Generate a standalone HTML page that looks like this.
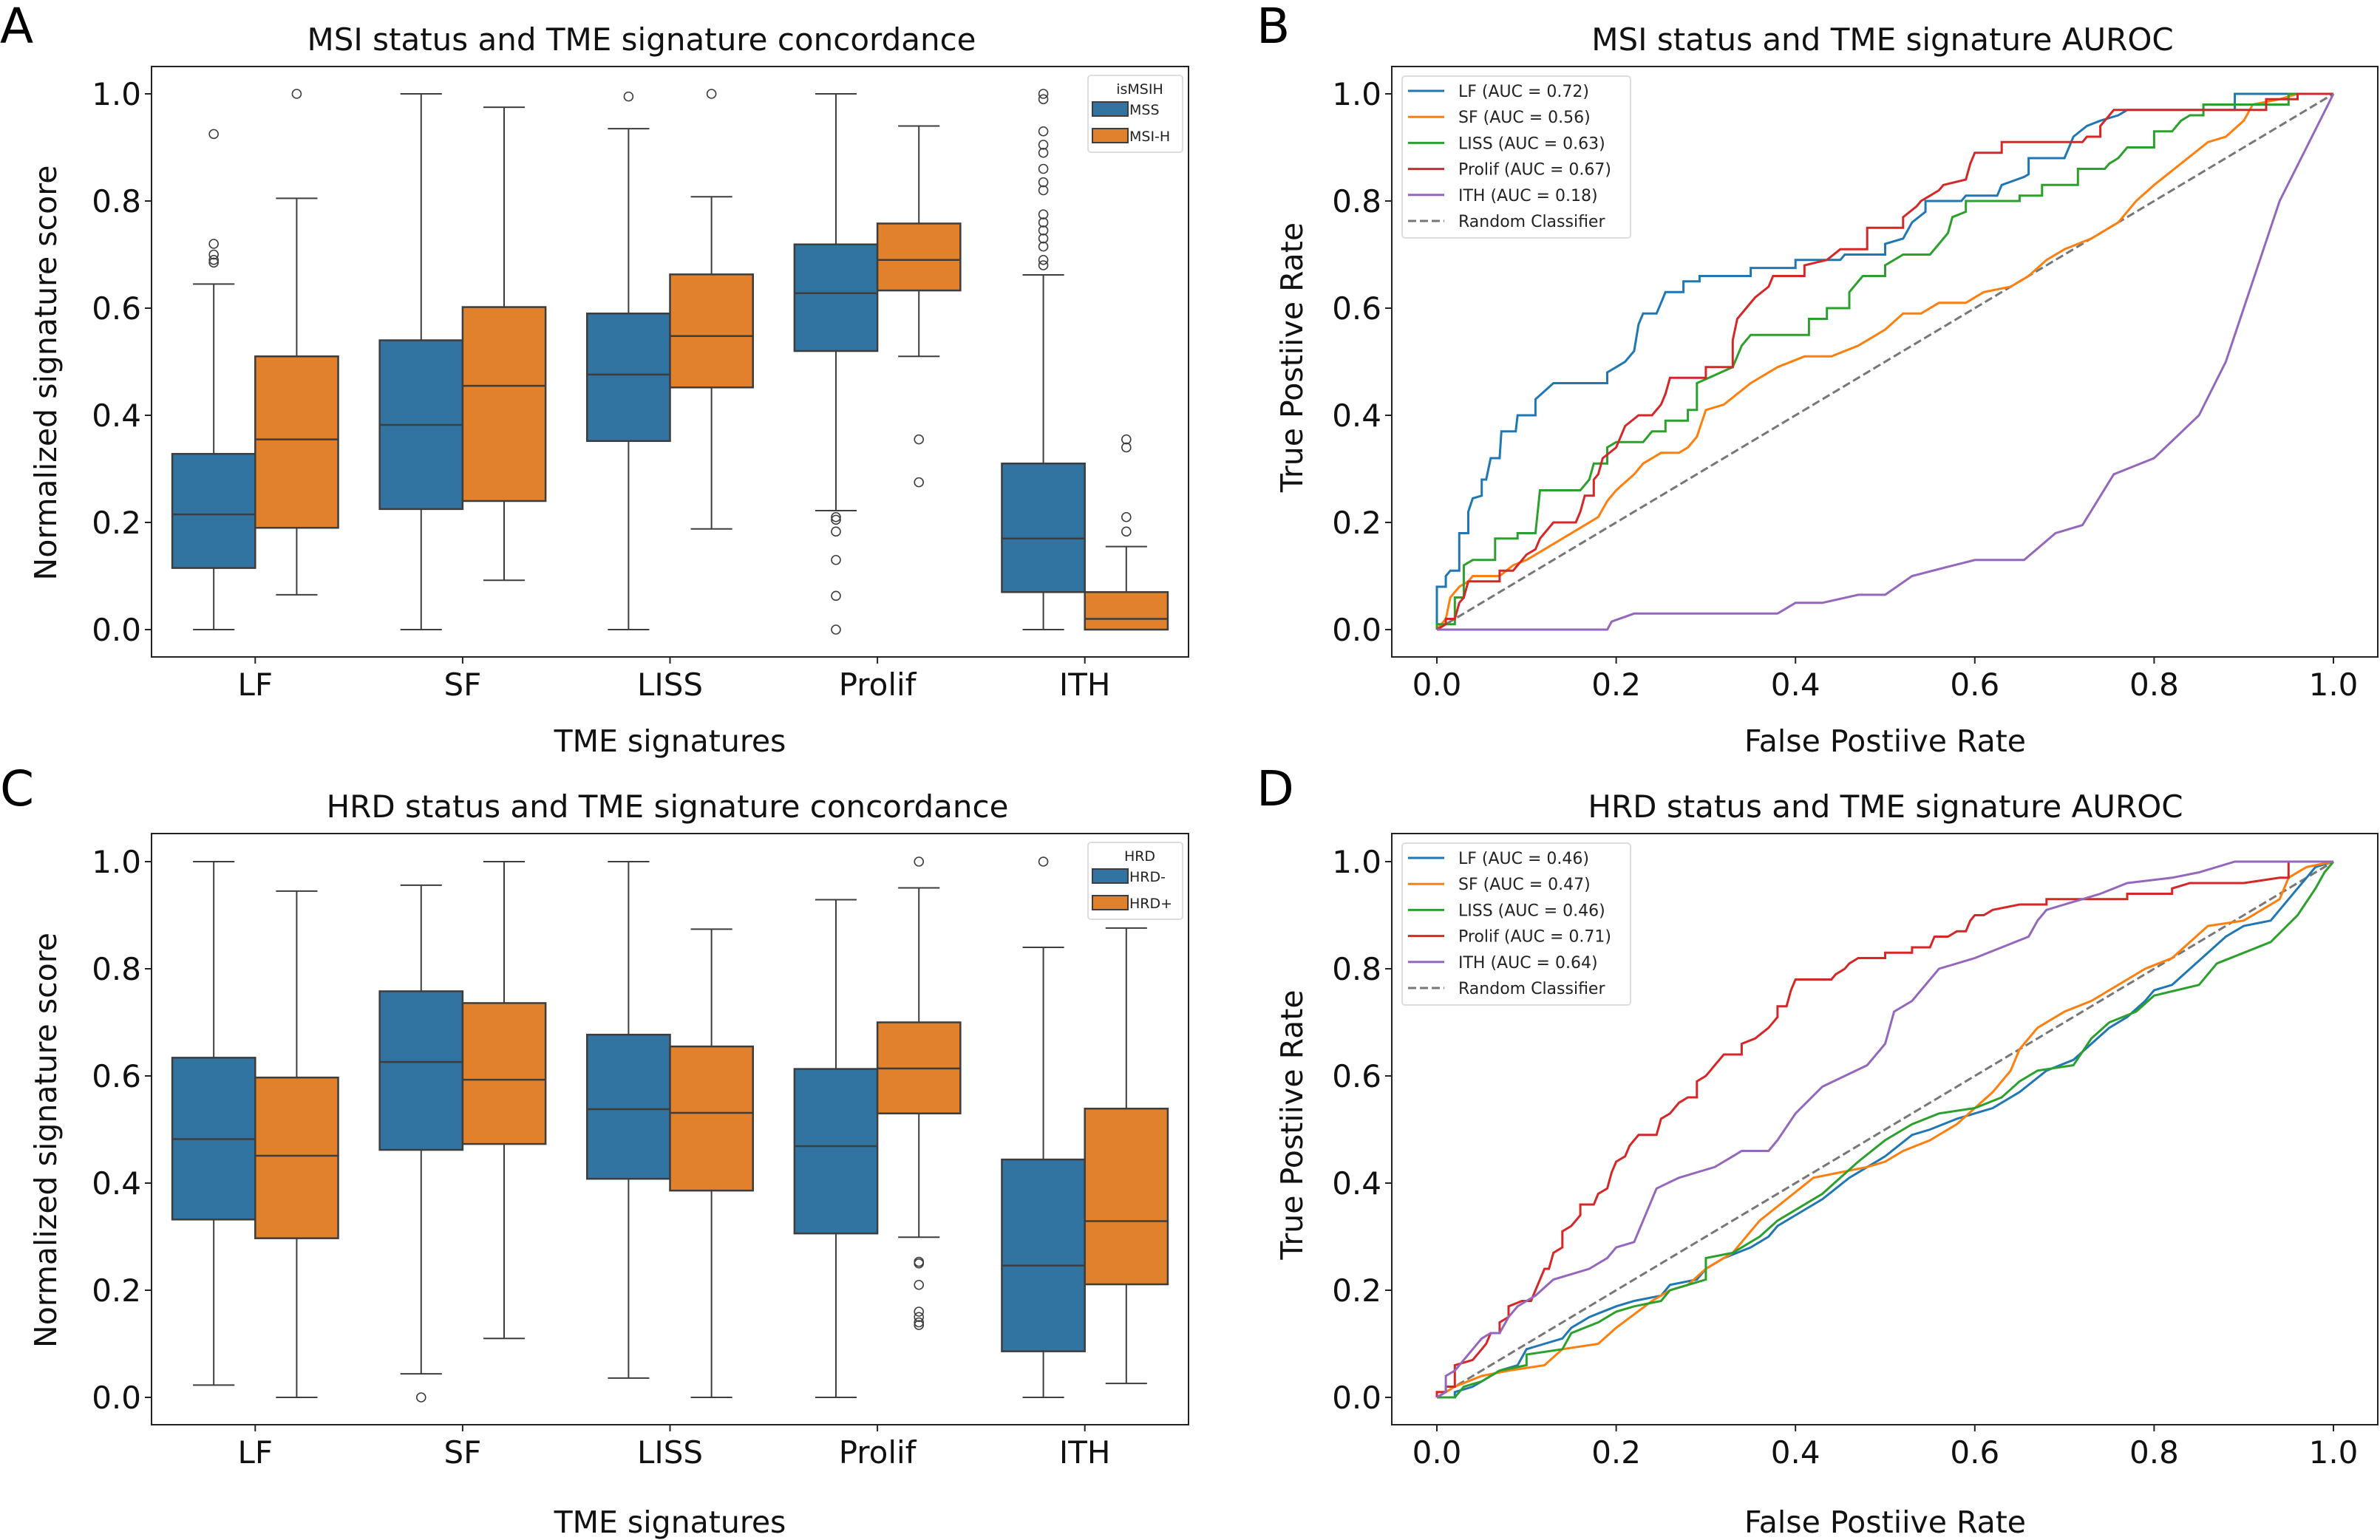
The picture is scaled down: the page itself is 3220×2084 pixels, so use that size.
<!DOCTYPE html>
<html><head><meta charset="utf-8">
<style>
html,body{margin:0;padding:0;background:#fff;}
svg{display:block;font-family:"DejaVu Sans","Liberation Sans",sans-serif;}
</style></head>
<body>
<svg id="fig" width="3220" height="2084" viewBox="0 0 3220 2084" xmlns="http://www.w3.org/2000/svg">
<rect x="0" y="0" width="3220" height="2084" fill="#fff"/>
<g id="root"></g>
</svg>
<script>
// ---------- data ----------
const categories = ["LF","SF","LISS","Prolif","ITH"];
const yTicks = [0.0,0.2,0.4,0.6,0.8,1.0];
const yTickLabels = ["0.0","0.2","0.4","0.6","0.8","1.0"];
const xTicks = [0.0,0.2,0.4,0.6,0.8,1.0];
const xTickLabels = ["0.0","0.2","0.4","0.6","0.8","1.0"];
// panel A boxes: [whislo, q1, med, q3, whishi]
const msiMSS = [[0,0.115,0.215,0.328,0.645],[0,0.225,0.382,0.54,1.0],[0,0.352,0.476,0.59,0.935],[0.222,0.52,0.628,0.719,1.0],[0,0.07,0.17,0.31,0.662]];
const msiMSIH = [[0.065,0.19,0.355,0.51,0.805],[0.092,0.24,0.455,0.602,0.975],[0.188,0.452,0.548,0.663,0.808],[0.51,0.633,0.69,0.758,0.94],[0,0,0.02,0.07,0.155]];
const msiMSSFliers = [[0.925,0.72,0.70,0.69,0.685],[],[0.995],[0.21,0.205,0.183,0.13,0.063,0.0],[1.0,0.99,0.93,0.905,0.89,0.86,0.835,0.82,0.775,0.76,0.745,0.73,0.715,0.69,0.68]];
const msiMSIHFliers = [[1.0],[],[1.0],[0.355,0.275],[0.355,0.34,0.21,0.183]];
// panel C boxes
const hrdNeg = [[0.023,0.332,0.482,0.634,1.0],[0.044,0.462,0.626,0.758,0.956],[0.036,0.408,0.538,0.677,1.0],[0,0.306,0.469,0.613,0.929],[0,0.086,0.246,0.444,0.840]];
const hrdPos = [[0,0.297,0.451,0.597,0.945],[0.11,0.473,0.593,0.736,1.0],[0,0.386,0.531,0.655,0.874],[0.299,0.530,0.614,0.70,0.951],[0.026,0.211,0.329,0.539,0.876]];
const hrdNegFliers = [[],[0.0],[],[],[1.0]];
const hrdPosFliers = [[],[],[],[1.0,0.253,0.25,0.21,0.16,0.15,0.14,0.135],[]];
// ROC curves panel B: [fpr,tpr]
const msiLF = [[0,0],[0,0.08],[0.01,0.08],[0.01,0.1],[0.015,0.11],[0.025,0.11],[0.025,0.18],[0.035,0.18],[0.035,0.22],[0.04,0.245],[0.05,0.25],[0.05,0.28],[0.055,0.28],[0.06,0.32],[0.07,0.32],[0.072,0.37],[0.088,0.37],[0.09,0.40],[0.11,0.40],[0.11,0.43],[0.12,0.445],[0.13,0.46],[0.19,0.46],[0.19,0.48],[0.2,0.49],[0.21,0.5],[0.22,0.52],[0.225,0.57],[0.23,0.59],[0.245,0.59],[0.25,0.61],[0.255,0.63],[0.275,0.63],[0.275,0.65],[0.293,0.65],[0.293,0.66],[0.35,0.66],[0.35,0.675],[0.4,0.675],[0.4,0.69],[0.45,0.69],[0.455,0.70],[0.5,0.70],[0.5,0.72],[0.52,0.73],[0.53,0.76],[0.545,0.78],[0.545,0.80],[0.585,0.80],[0.59,0.81],[0.625,0.81],[0.63,0.83],[0.655,0.845],[0.66,0.85],[0.66,0.88],[0.7,0.88],[0.705,0.90],[0.71,0.92],[0.725,0.94],[0.74,0.95],[0.76,0.96],[0.77,0.97],[0.89,0.97],[0.89,1.0],[1,1]];
const msiSF = [[0,0],[0.01,0.02],[0.015,0.06],[0.025,0.08],[0.035,0.09],[0.04,0.10],[0.07,0.10],[0.085,0.12],[0.1,0.13],[0.12,0.15],[0.14,0.17],[0.16,0.19],[0.18,0.21],[0.19,0.24],[0.2,0.26],[0.22,0.29],[0.23,0.31],[0.25,0.33],[0.27,0.33],[0.28,0.34],[0.29,0.36],[0.3,0.41],[0.32,0.42],[0.35,0.46],[0.38,0.49],[0.41,0.51],[0.44,0.51],[0.47,0.53],[0.5,0.56],[0.52,0.59],[0.54,0.59],[0.56,0.61],[0.59,0.61],[0.61,0.63],[0.64,0.64],[0.66,0.66],[0.68,0.69],[0.7,0.71],[0.73,0.73],[0.76,0.76],[0.78,0.80],[0.8,0.83],[0.83,0.87],[0.86,0.91],[0.88,0.92],[0.9,0.95],[0.91,0.98],[0.94,0.99],[0.96,1.0],[1,1]];
const msiLISS = [[0,0],[0,0.01],[0.02,0.01],[0.02,0.06],[0.03,0.06],[0.03,0.12],[0.04,0.13],[0.065,0.13],[0.065,0.17],[0.09,0.17],[0.09,0.18],[0.11,0.18],[0.115,0.26],[0.16,0.26],[0.17,0.28],[0.175,0.31],[0.19,0.31],[0.19,0.34],[0.2,0.35],[0.23,0.35],[0.24,0.37],[0.255,0.37],[0.255,0.39],[0.28,0.39],[0.28,0.41],[0.29,0.41],[0.29,0.46],[0.33,0.49],[0.34,0.53],[0.35,0.55],[0.415,0.55],[0.415,0.58],[0.435,0.58],[0.435,0.60],[0.46,0.60],[0.46,0.63],[0.475,0.66],[0.5,0.66],[0.5,0.68],[0.52,0.70],[0.55,0.70],[0.56,0.72],[0.57,0.74],[0.575,0.77],[0.59,0.78],[0.59,0.80],[0.65,0.80],[0.65,0.81],[0.675,0.81],[0.675,0.83],[0.715,0.83],[0.715,0.86],[0.745,0.86],[0.75,0.87],[0.76,0.88],[0.77,0.90],[0.8,0.90],[0.8,0.93],[0.82,0.93],[0.83,0.95],[0.84,0.96],[0.855,0.96],[0.855,0.98],[0.95,0.98],[0.95,1.0],[1,1]];
const msiProlif = [[0,0],[0.01,0.01],[0.01,0.02],[0.02,0.02],[0.025,0.05],[0.03,0.06],[0.035,0.09],[0.07,0.09],[0.07,0.11],[0.085,0.11],[0.09,0.12],[0.1,0.14],[0.11,0.15],[0.115,0.17],[0.12,0.18],[0.13,0.20],[0.155,0.20],[0.16,0.22],[0.165,0.25],[0.175,0.25],[0.175,0.28],[0.18,0.29],[0.185,0.32],[0.2,0.34],[0.21,0.38],[0.225,0.40],[0.24,0.40],[0.25,0.42],[0.255,0.44],[0.26,0.47],[0.3,0.47],[0.3,0.49],[0.33,0.49],[0.33,0.54],[0.335,0.58],[0.345,0.60],[0.355,0.62],[0.37,0.64],[0.375,0.66],[0.41,0.66],[0.41,0.68],[0.435,0.69],[0.45,0.71],[0.48,0.71],[0.48,0.75],[0.52,0.75],[0.52,0.77],[0.535,0.79],[0.54,0.80],[0.55,0.81],[0.56,0.82],[0.565,0.83],[0.59,0.84],[0.595,0.87],[0.6,0.89],[0.63,0.89],[0.63,0.91],[0.72,0.91],[0.725,0.92],[0.74,0.92],[0.74,0.94],[0.75,0.96],[0.755,0.97],[0.925,0.97],[0.925,0.99],[0.96,0.99],[0.96,1.0],[1,1]];
const msiITH = [[0,0],[0.19,0],[0.195,0.015],[0.22,0.03],[0.38,0.03],[0.4,0.05],[0.43,0.05],[0.47,0.065],[0.5,0.065],[0.53,0.1],[0.565,0.115],[0.6,0.13],[0.655,0.13],[0.69,0.18],[0.72,0.195],[0.755,0.29],[0.8,0.32],[0.85,0.40],[0.88,0.5],[0.91,0.65],[0.94,0.8],[0.97,0.9],[1,1]];
// ROC curves panel D
const hrdLF = [[0,0],[0.02,0.0],[0.02,0.01],[0.04,0.02],[0.05,0.03],[0.07,0.05],[0.09,0.06],[0.1,0.09],[0.12,0.1],[0.14,0.11],[0.15,0.13],[0.17,0.15],[0.2,0.17],[0.22,0.18],[0.25,0.19],[0.26,0.21],[0.29,0.22],[0.3,0.24],[0.32,0.26],[0.35,0.28],[0.37,0.30],[0.38,0.32],[0.4,0.34],[0.43,0.37],[0.46,0.41],[0.5,0.45],[0.53,0.49],[0.55,0.5],[0.58,0.52],[0.62,0.54],[0.65,0.57],[0.68,0.61],[0.71,0.63],[0.73,0.66],[0.75,0.69],[0.77,0.71],[0.79,0.74],[0.8,0.76],[0.82,0.77],[0.84,0.8],[0.86,0.83],[0.88,0.86],[0.9,0.88],[0.93,0.89],[0.95,0.93],[0.97,0.97],[0.98,0.99],[1,1]];
const hrdSF = [[0,0],[0.02,0.02],[0.05,0.04],[0.08,0.05],[0.12,0.06],[0.14,0.09],[0.18,0.1],[0.2,0.13],[0.24,0.18],[0.26,0.2],[0.28,0.21],[0.3,0.24],[0.33,0.27],[0.36,0.33],[0.39,0.37],[0.42,0.41],[0.45,0.42],[0.48,0.43],[0.5,0.44],[0.52,0.46],[0.55,0.48],[0.58,0.51],[0.6,0.54],[0.62,0.57],[0.64,0.61],[0.65,0.65],[0.67,0.69],[0.7,0.72],[0.73,0.74],[0.75,0.76],[0.77,0.78],[0.79,0.8],[0.82,0.82],[0.84,0.85],[0.86,0.88],[0.9,0.89],[0.94,0.93],[0.95,0.97],[0.97,0.99],[1,1]];
const hrdLISS = [[0,0],[0.02,0],[0.03,0.02],[0.05,0.03],[0.07,0.05],[0.1,0.06],[0.1,0.08],[0.14,0.09],[0.15,0.12],[0.18,0.14],[0.2,0.16],[0.22,0.17],[0.25,0.18],[0.26,0.2],[0.3,0.22],[0.3,0.26],[0.33,0.27],[0.36,0.30],[0.38,0.33],[0.4,0.35],[0.43,0.38],[0.45,0.41],[0.47,0.44],[0.5,0.48],[0.53,0.51],[0.56,0.53],[0.6,0.54],[0.63,0.56],[0.65,0.59],[0.67,0.61],[0.71,0.62],[0.73,0.67],[0.75,0.7],[0.78,0.72],[0.8,0.75],[0.85,0.77],[0.87,0.81],[0.9,0.83],[0.93,0.85],[0.96,0.9],[0.98,0.95],[0.99,0.98],[1,1]];
const hrdProlif = [[0,0],[0,0.01],[0.01,0.01],[0.01,0.02],[0.02,0.02],[0.02,0.06],[0.03,0.065],[0.04,0.07],[0.05,0.09],[0.055,0.1],[0.06,0.12],[0.07,0.12],[0.07,0.14],[0.08,0.15],[0.08,0.17],[0.095,0.18],[0.105,0.18],[0.11,0.2],[0.115,0.22],[0.12,0.24],[0.125,0.24],[0.13,0.27],[0.14,0.28],[0.14,0.31],[0.15,0.32],[0.16,0.34],[0.16,0.36],[0.175,0.36],[0.18,0.38],[0.19,0.39],[0.195,0.42],[0.2,0.44],[0.21,0.45],[0.215,0.47],[0.225,0.49],[0.245,0.49],[0.25,0.52],[0.26,0.53],[0.27,0.55],[0.28,0.56],[0.29,0.56],[0.29,0.59],[0.3,0.60],[0.305,0.61],[0.31,0.62],[0.315,0.63],[0.32,0.64],[0.34,0.64],[0.34,0.66],[0.355,0.67],[0.37,0.69],[0.38,0.71],[0.38,0.73],[0.39,0.73],[0.395,0.76],[0.4,0.78],[0.44,0.78],[0.445,0.79],[0.455,0.80],[0.46,0.81],[0.47,0.82],[0.5,0.82],[0.5,0.83],[0.53,0.83],[0.53,0.84],[0.55,0.84],[0.555,0.86],[0.57,0.86],[0.58,0.87],[0.59,0.87],[0.595,0.89],[0.6,0.90],[0.61,0.90],[0.62,0.91],[0.65,0.92],[0.68,0.92],[0.68,0.93],[0.77,0.93],[0.77,0.94],[0.82,0.94],[0.82,0.95],[0.84,0.96],[0.9,0.96],[0.94,0.97],[0.95,0.97],[0.95,1.0],[1,1]];
const hrdITH = [[0,0],[0.01,0.01],[0.01,0.04],[0.02,0.05],[0.03,0.07],[0.04,0.09],[0.05,0.11],[0.06,0.12],[0.07,0.12],[0.08,0.15],[0.09,0.17],[0.1,0.18],[0.11,0.19],[0.13,0.22],[0.15,0.23],[0.17,0.24],[0.19,0.26],[0.2,0.28],[0.22,0.29],[0.23,0.33],[0.245,0.39],[0.27,0.41],[0.29,0.42],[0.31,0.43],[0.33,0.45],[0.34,0.46],[0.37,0.46],[0.38,0.48],[0.4,0.53],[0.43,0.58],[0.455,0.60],[0.48,0.62],[0.5,0.66],[0.51,0.72],[0.53,0.74],[0.56,0.8],[0.6,0.82],[0.63,0.84],[0.66,0.86],[0.67,0.89],[0.68,0.91],[0.7,0.92],[0.72,0.93],[0.74,0.94],[0.77,0.96],[0.82,0.97],[0.85,0.98],[0.89,1.0],[1,1]];
const msiLegend = ["LF (AUC = 0.72)","SF (AUC = 0.56)","LISS (AUC = 0.63)","Prolif (AUC = 0.67)","ITH (AUC = 0.18)","Random Classifier"];
const hrdLegend = ["LF (AUC = 0.46)","SF (AUC = 0.47)","LISS (AUC = 0.46)","Prolif (AUC = 0.71)","ITH (AUC = 0.64)","Random Classifier"];

// ---------- drawing ----------
const NS = "http://www.w3.org/2000/svg";
const root = document.getElementById('root');
function mk(tag, attrs, parent, text){
  const e = document.createElementNS(NS, tag);
  for (const k in attrs) e.setAttribute(k, attrs[k]);
  if (text !== undefined) e.textContent = text;
  (parent || root).appendChild(e);
  return e;
}
const lineColors = ["#1f77b4","#ff7f0e","#2ca02c","#d62728","#9467bd"];
const boxColors = ["#3274a1","#e1812c"];
const edge = "#3d3d3d";

function axesFrame(g, ax){
  const f = mk('rect', {x:ax.left, y:ax.top, width:ax.right-ax.left, height:ax.bottom-ax.top, fill:'none', stroke:'#222', 'stroke-width':2}, g);
  
  
  yTicks.forEach((t,i)=>{
    const y = ax.y0 + (ax.y1-ax.y0)*t;
    mk('line',{x1:ax.left-9,x2:ax.left,y1:y,y2:y,stroke:'#222','stroke-width':2},g);
    const tl = mk('text',{x:ax.left-14,y:y+15,'text-anchor':'end','font-size':42,fill:'#111'},g,yTickLabels[i]);
    
    
  });
}

function boxPanel(ax, a, b, fa, fb, legTitle, legNames, title, titleX, letter, letterY, xlabOff){
  const g = mk('g',{},root);
  
  
  axesFrame(g, ax);
  const step = (ax.right-ax.left)/categories.length;
  const xc = i => ax.left + step*(i+0.5);
  const bw = step*0.4;
  const vy = v => ax.y0 + (ax.y1-ax.y0)*v;
  categories.forEach((c,i)=>{
    mk('line',{x1:xc(i),x2:xc(i),y1:ax.bottom,y2:ax.bottom+9,stroke:'#222','stroke-width':2},g);
    const tl = mk('text',{x:xc(i),y:ax.bottom+52,'text-anchor':'middle','font-size':42,fill:'#111'},g,c);
    
    
    [[a,fa,0],[b,fb,1]].forEach(([arr,fl,h])=>{
      const d = arr[i];
      const x0 = h===0 ? xc(i)-bw : xc(i);
      const cx = x0 + bw/2;
      const bg = mk('g',{},g);
      
      
      mk('line',{x1:cx,x2:cx,y1:vy(d[0]),y2:vy(d[1]),stroke:edge,'stroke-width':2},bg);
      mk('line',{x1:cx,x2:cx,y1:vy(d[3]),y2:vy(d[4]),stroke:edge,'stroke-width':2},bg);
      mk('line',{x1:cx-bw/4,x2:cx+bw/4,y1:vy(d[0]),y2:vy(d[0]),stroke:edge,'stroke-width':2},bg);
      mk('line',{x1:cx-bw/4,x2:cx+bw/4,y1:vy(d[4]),y2:vy(d[4]),stroke:edge,'stroke-width':2},bg);
      mk('rect',{x:x0,y:vy(d[3]),width:bw,height:vy(d[1])-vy(d[3]),fill:boxColors[h],stroke:edge,'stroke-width':2.5},bg);
      mk('line',{x1:x0,x2:x0+bw,y1:vy(d[2]),y2:vy(d[2]),stroke:edge,'stroke-width':2.5},bg);
      fl[i].forEach(v=>{
        const p = mk('circle',{cx:cx,cy:vy(v),r:6,fill:'none',stroke:edge,'stroke-width':1.6},bg);
        
        
      });
    });
  });
  const lg = mk('g',{},g);
  
  
  const lx = ax.right-136, ly = ax.top+12;
  mk('rect',{x:lx,y:ly,width:128,height:104,rx:4,fill:'#fff',stroke:'#ddd','stroke-width':2},lg);
  mk('text',{x:lx+70,y:ly+25,'text-anchor':'middle','font-size':19,fill:'#222'},lg,legTitle);
  legNames.forEach((n,h)=>{
    const yy = ly+36+h*36;
    mk('rect',{x:lx+6,y:yy,width:48,height:19,fill:boxColors[h],stroke:edge,'stroke-width':2},lg);
    mk('text',{x:lx+56,y:yy+17,'font-size':19,fill:'#222'},lg,n);
  });
  const tt = mk('text',{x:titleX,y:ax.top-22,'text-anchor':'middle','font-size':42,fill:'#111'},g,title);
  
  
  const xl = mk('text',{x:(ax.left+ax.right)/2,y:ax.bottom+128+xlabOff,'text-anchor':'middle','font-size':41,fill:'#111'},g,'TME signatures');
  
  
  const yl = mk('text',{x:0,y:0,'text-anchor':'middle','font-size':41,fill:'#111',transform:`translate(76,${(ax.top+ax.bottom)/2+15}) rotate(-90)`},g,'Normalized signature score');
  
  
  const pl = mk('text',{x:0,y:letterY,'font-size':66,fill:'#000'},g,letter);
  
  
}

function rocPanel(ax, curves, legend, title, titleX, letter, letterY, xlabOff){
  const g = mk('g',{},root);
  
  
  axesFrame(g, ax);
  const px = v => ax.x0 + (ax.x1-ax.x0)*v;
  const vy = v => ax.y0 + (ax.y1-ax.y0)*v;
  xTicks.forEach((t,i)=>{
    mk('line',{x1:px(t),x2:px(t),y1:ax.bottom,y2:ax.bottom+9,stroke:'#222','stroke-width':2},g);
    const tl = mk('text',{x:px(t),y:ax.bottom+52,'text-anchor':'middle','font-size':42,fill:'#111'},g,xTickLabels[i]);
    
    
  });
  const diag = mk('line',{x1:px(0),y1:vy(0),x2:px(1),y2:vy(1),stroke:'#777','stroke-width':3,'stroke-dasharray':'11,5'},g);
  
  
  const names = ['lf','sf','liss','prolif','ith'];
  curves.forEach((c,i)=>{
    const p = mk('polyline',{points:c.map(q=>px(q[0]).toFixed(1)+','+vy(q[1]).toFixed(1)).join(' '),fill:'none',stroke:lineColors[i],'stroke-width':3,'stroke-linejoin':'miter'},g);
    
    
  });
  const lg = mk('g',{},g);
  
  
  const lx = ax.left+14, ly = ax.top+13;
  mk('rect',{x:lx,y:ly,width:309,height:219,rx:4,fill:'#fff','fill-opacity':0.85,stroke:'#ddd','stroke-width':2},lg);
  legend.forEach((n,i)=>{
    const yy = ly+20+i*35.2;
    const col = i<5 ? lineColors[i] : '#777';
    mk('line',{x1:lx+8,x2:lx+57,y1:yy,y2:yy,stroke:col,'stroke-width':3,'stroke-dasharray': i<5?'none':'11,5'},lg);
    mk('text',{x:lx+76,y:yy+8,'font-size':22,fill:'#222'},lg,n);
  });
  const tt = mk('text',{x:titleX,y:ax.top-22,'text-anchor':'middle','font-size':42,fill:'#111'},g,title);
  
  
  const xl = mk('text',{x:(ax.x0+ax.x1)/2,y:ax.bottom+128+xlabOff,'text-anchor':'middle','font-size':41,fill:'#111'},g,'False Postiive Rate');
  
  
  const yl = mk('text',{x:0,y:0,'text-anchor':'middle','font-size':41,fill:'#111',transform:`translate(1762,${(ax.top+ax.bottom)/2-6}) rotate(-90)`},g,'True Postiive Rate');
  
  
  const pl = mk('text',{x:1700,y:letterY,'font-size':66,fill:'#000'},g,letter);
  
  
}

const axA = {left:205,right:1608,top:90,bottom:889,y0:852,y1:127};
const axC = {left:205,right:1608,top:1128,bottom:1928,y0:1891,y1:1166};
const axB = {left:1883,right:3217,top:90,bottom:889,y0:852,y1:127,x0:1944,x1:3157};
const axD = {left:1883,right:3217,top:1128,bottom:1928,y0:1891,y1:1166,x0:1944,x1:3157};

boxPanel(axA, msiMSS, msiMSIH, msiMSSFliers, msiMSIHFliers, 'isMSIH', ['MSS','MSI-H'], 'MSI status and TME signature concordance', 868, 'A', 58, 0);
boxPanel(axC, hrdNeg, hrdPos, hrdNegFliers, hrdPosFliers, 'HRD', ['HRD-','HRD+'], 'HRD status and TME signature concordance', 903, 'C', 1090, 18);
rocPanel(axB, [msiLF,msiSF,msiLISS,msiProlif,msiITH], msiLegend, 'MSI status and TME signature AUROC', 2547, 'B', 58, 0);
rocPanel(axD, [hrdLF,hrdSF,hrdLISS,hrdProlif,hrdITH], hrdLegend, 'HRD status and TME signature AUROC', 2551, 'D', 1090, 18);
</script>
</body></html>
